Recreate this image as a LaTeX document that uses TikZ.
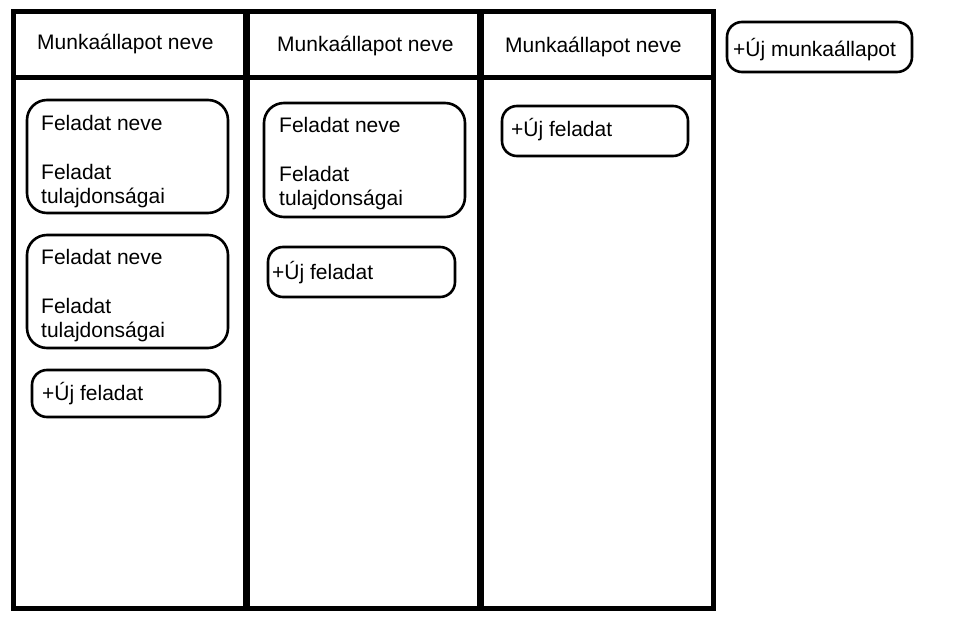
\documentclass[tikz,border=0pt]{standalone}
\usepackage{fontspec}
\setmainfont{Liberation Sans}
\tikzset{>=stealth}

\begin{document}
\begin{tikzpicture}[x=1pt, y=-1pt,
    keret/.style={line width=5pt},
    elvalaszto/.style={line width=7pt},
    kartya/.style={draw, line width=2.6pt, rounded corners=20pt, anchor=north west,
        inner sep=0pt, outer sep=0pt},
    ujgomb/.style={kartya, rounded corners=15pt},
    szoveg/.style={anchor=base west, inner sep=0pt, align=left,
        font=\fontsize{21}{24.5}\selectfont}]
    \useasboundingbox (0,0) rectangle (968,631);
    % tabla es oszlopok
    \draw[keret] (13,12) rectangle (713,608);
    \draw[keret] (13,78) -- (713,78);
    \draw[elvalaszto] (246,12) -- (246,608);
    \draw[elvalaszto] (480,12) -- (480,608);
    \node[szoveg] (fej1) at (37,50) {Munkaállapot neve};
    \node[szoveg] (fej2) at (277,52) {Munkaállapot neve};
    \node[szoveg] (fej3) at (505,53) {Munkaállapot neve};
    % elso oszlop (base = utolso sor alapvonala)
    \node[kartya, minimum width=201pt, minimum height=113pt] (k11) at (27,100) {};
    \node[szoveg] (k11t) at (41,204) {Feladat neve\\[24.5pt]Feladat\\tulajdonságai};
    \node[kartya, minimum width=201pt, minimum height=113pt] (k12) at (27,235) {};
    \node[szoveg] (k12t) at (41,337.5) {Feladat neve\\[24.5pt]Feladat\\tulajdonságai};
    \node[ujgomb, minimum width=188pt, minimum height=47pt] (uj1) at (32,370) {};
    \node[szoveg] (uj1t) at (42,400) {+Új feladat};
    % masodik oszlop
    \node[kartya, minimum width=201pt, minimum height=114pt] (k21) at (264,103) {};
    \node[szoveg] (k21t) at (279,205.5) {Feladat neve\\[24.5pt]Feladat\\tulajdonságai};
    \node[ujgomb, minimum width=187pt, minimum height=50pt] (uj2) at (268,247) {};
    \node[szoveg] (uj2t) at (272,279) {+Új feladat};
    % harmadik oszlop
    \node[ujgomb, minimum width=186pt, minimum height=50pt] (uj3) at (502,106) {};
    \node[szoveg] (uj3t) at (511,137) {+Új feladat};
    % uj munkaallapot
    \node[ujgomb, minimum width=185pt, minimum height=50pt] (ujm) at (727,22) {};
    \node[szoveg] (ujmt) at (733,57) {+Új munkaállapot};
\end{tikzpicture}
\end{document}
